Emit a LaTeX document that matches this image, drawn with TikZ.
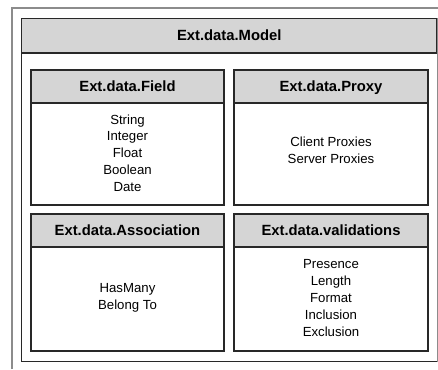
\documentclass[tikz,border=0pt]{standalone}
\usepackage{fontspec}
\setmainfont{Liberation Sans}
\definecolor{hdrfill}{RGB}{213,213,213}
\definecolor{edge}{RGB}{40,40,40}
\definecolor{pagerule}{RGB}{140,140,140}
\begin{document}
\begin{tikzpicture}[x=1pt,y=-1pt,
  boxline/.style={draw=edge, line width=1.1pt},
  headband/.style={boxline, fill=hdrfill},
  title/.style={font=\bfseries\fontsize{14.8}{17}\selectfont, inner sep=0pt,
    text height=10.5pt, text depth=0pt},
  items/.style={font=\fontsize{13.2}{16.8}\selectfont, align=center, inner sep=0pt}]
\useasboundingbox (0,0) rectangle (438,369);

% page rule, open to the right and bottom
\draw[pagerule, line width=1.2pt] (12,369) -- (12,8) -- (438,8);

% outer model container
\fill[white] (21.5,18.5) rectangle (437,361.5);
\draw[headband] (21.5,18.5) rectangle (437,53);
\draw[boxline] (21.5,53) -- (21.5,361.5) -- (437,361.5);
\draw[draw=black!45, line width=0.8pt] (437,18.5) -- (437,361.5);
\node[title] (model) at (229.25,35.75) {Ext.data.Model};

% inner component boxes
\draw[boxline] (31,70) rectangle (224,205);
\draw[headband] (31,70) rectangle (224,103);
\node[title] (field) at (127.5,86.5) {Ext.data.Field};
\node[items] (fielditems) at (127.5,153) {String\\Integer\\Float\\Boolean\\Date};

\draw[boxline] (234,70) rectangle (428,205);
\draw[headband] (234,70) rectangle (428,103);
\node[title] (proxy) at (331,86) {Ext.data.Proxy};
\node[items] (proxyitems) at (331,150) {Client Proxies\\Server Proxies};

\draw[boxline] (31,214) rectangle (224,351);
\draw[headband] (31,214) rectangle (224,247);
\node[title] (assoc) at (127.5,230.5) {Ext.data.Association};
\node[items] (associtems) at (127.5,298) {HasMany\\Belong To};

\draw[boxline] (234,214) rectangle (428,351);
\draw[headband] (234,214) rectangle (428,247);
\node[title] (valid) at (331,230.5) {Ext.data.validations};
\node[items] (validitems) at (331,298) {Presence\\Length\\Format\\Inclusion\\Exclusion};
\end{tikzpicture}
\end{document}
